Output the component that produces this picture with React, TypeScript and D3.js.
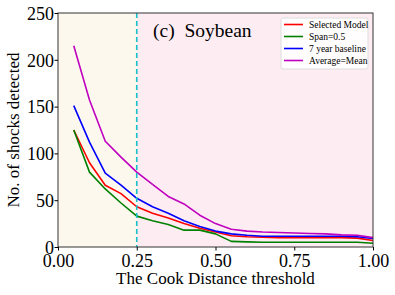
import React, { useRef, useEffect } from 'react';
import * as d3 from 'd3';

// Cook distance thresholds (x) and detected shocks for each method
const thresholds = [0.05, 0.10, 0.15, 0.20, 0.25, 0.30, 0.35, 0.40, 0.45, 0.50,
  0.55, 0.60, 0.65, 0.70, 0.75, 0.80, 0.85, 0.90, 0.95, 1.00];
const selectedModel = [125, 90, 66, 57, 43, 36, 31, 25, 20, 16, 12, 11, 10.5, 10, 10, 10, 10, 10, 9.5, 7];
const span05 = [125, 80, 62, 47, 33, 28, 24, 18, 18, 14, 6, 5.5, 5, 5, 5, 5, 5, 5, 5, 4];
const baseline7 = [151, 112, 79, 66, 52, 43, 36, 28, 22, 17, 14, 12.5, 11.5, 11.5, 11.5, 11.5, 11.5, 11.5, 11, 9];
const averageMean = [215, 157, 113, 96, 80, 67, 54, 46, 34, 25, 19, 17, 16, 15.5, 15, 14.5, 14, 13, 12.5, 10];

const xTicks = [0, 0.25, 0.5, 0.75, 1.0];
const yTicks = [0, 50, 100, 150, 200, 250];
const cutoff = 0.25;

const series = [
  { label: 'Selected Model', values: selectedModel, color: '#ff0000' },
  { label: 'Span=0.5', values: span05, color: '#008000' },
  { label: '7 year baseline', values: baseline7, color: '#0000ff' },
  { label: 'Average=Mean', values: averageMean, color: '#bf00bf' },
];

const FONT = 'Liberation Serif, Times New Roman, Times, DejaVu Serif, serif';

const App = () => {
  const svgRef = useRef(null);

  useEffect(() => {
    if (!svgRef.current) return;
    const width = 395;
    const height = 295;
    const margin = { top: 13, right: 22, bottom: 48, left: 58 };
    const innerWidth = width - margin.left - margin.right;
    const innerHeight = height - margin.top - margin.bottom;

    const svg = d3.select(svgRef.current);
    svg.selectAll('*').remove();
    svg.attr('font-family', FONT);

    const g = svg.append('g')
      .attr('transform', `translate(${margin.left},${margin.top})`);

    const xScale = d3.scaleLinear().domain([0, 1]).range([0, innerWidth]);
    const yScale = d3.scaleLinear().domain([0, 250]).range([innerHeight, 0]);

    // shaded regions
    g.append('rect')
      .attr('x', 0).attr('y', 0)
      .attr('width', xScale(cutoff)).attr('height', innerHeight)
      .attr('fill', '#fcf8ee');
    g.append('rect')
      .attr('x', xScale(cutoff)).attr('y', 0)
      .attr('width', innerWidth - xScale(cutoff)).attr('height', innerHeight)
      .attr('fill', '#fdedf2');

    // lines
    const line = d3.line()
      .x((d) => xScale(d[0]))
      .y((d) => yScale(d[1]));

    series.forEach((s) => {
      g.append('path')
        .datum(thresholds.map((t, i) => [t, s.values[i]]))
        .attr('fill', 'none')
        .attr('stroke', s.color)
        .attr('stroke-width', 1.6)
        .attr('stroke-linejoin', 'round')
        .attr('d', line);
    });

    // cutoff line
    g.append('line')
      .attr('x1', xScale(cutoff)).attr('x2', xScale(cutoff))
      .attr('y1', 0).attr('y2', innerHeight)
      .attr('stroke', '#17bfc6')
      .attr('stroke-width', 1.6)
      .attr('stroke-dasharray', '5,3');

    // frame
    g.append('rect')
      .attr('x', 0).attr('y', 0)
      .attr('width', innerWidth).attr('height', innerHeight)
      .attr('fill', 'none')
      .attr('stroke', '#333')
      .attr('stroke-width', 1);

    // axes
    const xAxis = g.append('g')
      .attr('transform', `translate(0,${innerHeight})`)
      .call(d3.axisBottom(xScale).tickValues(xTicks).tickSize(3.5).tickFormat(d3.format('.2f')));
    const yAxis = g.append('g')
      .call(d3.axisLeft(yScale).tickValues(yTicks).tickSize(3.5).tickFormat(d3.format('d')));

    [xAxis, yAxis].forEach((ax) => {
      ax.attr('font-family', FONT).attr('font-size', 18);
      ax.select('.domain').remove();
      ax.selectAll('line').attr('stroke', '#000');
      ax.selectAll('text').attr('fill', '#000');
    });
    xAxis.selectAll('text').attr('dy', '0.75em').attr('y', 6);
    yAxis.selectAll('text').attr('x', -4).attr('dy', '0.35em');

    // axis labels
    svg.append('text')
      .attr('x', margin.left + innerWidth / 2)
      .attr('y', 284)
      .attr('text-anchor', 'middle')
      .attr('font-size', 17)
      .text('The Cook Distance threshold');

    svg.append('text')
      .attr('transform', `translate(19,${margin.top + innerHeight / 2}) rotate(-90)`)
      .attr('text-anchor', 'middle')
      .attr('font-size', 17)
      .text('No. of shocks detected');

    // panel title
    svg.append('text')
      .attr('x', 153)
      .attr('y', 37)
      .attr('font-size', 19.5)
      .text('(c)\u00a0\u00a0Soybean');

    // legend
    const legend = svg.append('g').attr('transform', 'translate(281,18)');
    legend.append('rect')
      .attr('width', 87).attr('height', 51)
      .attr('rx', 2)
      .attr('fill', '#fff').attr('fill-opacity', 0.85)
      .attr('stroke', '#ddd');
    series.forEach((s, i) => {
      const y = 6.5 + i * 12;
      legend.append('line')
        .attr('x1', 3).attr('x2', 22)
        .attr('y1', y).attr('y2', y)
        .attr('stroke', s.color)
        .attr('stroke-width', 1.6);
      legend.append('text')
        .attr('x', 28).attr('y', y)
        .attr('dy', '0.35em')
        .attr('font-size', 9.5)
        .text(s.label);
    });
  }, []);

  return (
    <div style={{ position: 'absolute', left: 0, top: 0 }}>
      <svg ref={svgRef} width={395} height={295} style={{ display: 'block' }} />
    </div>
  );
};

export default App;
